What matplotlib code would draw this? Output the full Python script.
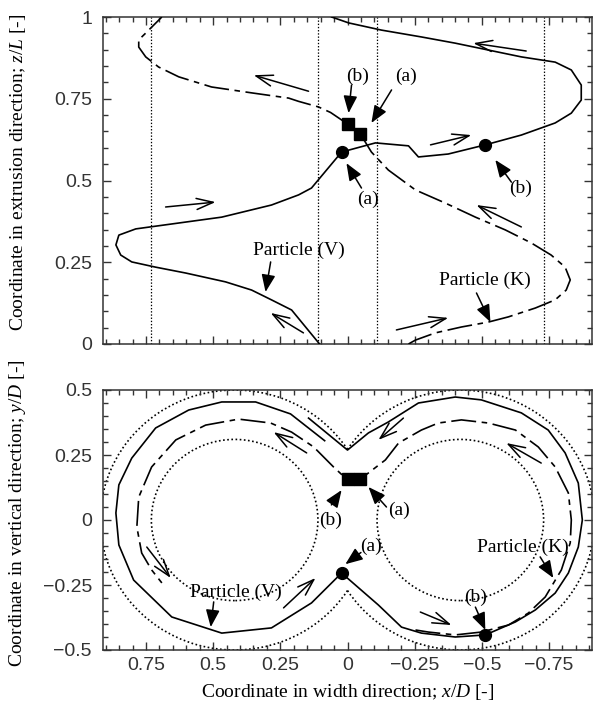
import numpy as np
import matplotlib
matplotlib.use("Agg")
import matplotlib.pyplot as plt
from matplotlib.ticker import MultipleLocator, FixedLocator, FuncFormatter
from matplotlib.patches import Arc, Circle

plt.rcParams['lines.scale_dashes'] = False
plt.rcParams['mathtext.fontset'] = 'custom'
plt.rcParams['mathtext.rm'] = 'Liberation Serif'
plt.rcParams['mathtext.it'] = 'Liberation Serif:italic'

# ---------------- data ----------------
# top panel: particle (V) solid, x/D vs z/L
v_top_x = [0.104, 0.208, 0.283, 0.357, 0.454, 0.602, 0.714, 0.803, 0.844, 0.862, 0.851, 0.788,
           0.468, 0.283, 0.182, 0.134, 0.022, -0.104, -0.227, -0.264, -0.375, -0.513, -0.647,
           -0.773, -0.833, -0.870, -0.870, -0.833, -0.773, -0.647, -0.524, -0.401, -0.275,
           -0.126, -0.004, 0.059]
v_top_z = [0.0, 0.104, 0.135, 0.165, 0.190, 0.217, 0.235, 0.251, 0.272, 0.303, 0.333, 0.352,
           0.388, 0.425, 0.456, 0.477, 0.587, 0.615, 0.606, 0.572, 0.581, 0.609, 0.639,
           0.676, 0.706, 0.746, 0.792, 0.838, 0.862, 0.878, 0.899, 0.920, 0.939,
           0.960, 0.982, 1.0]
# top panel: particle (K) dash-dot
k_top_x = [-0.227, -0.253, -0.327, -0.424, -0.524, -0.599, -0.699, -0.773, -0.814, -0.829,
           -0.810, -0.758, -0.684, -0.587, -0.476, -0.364, -0.253, -0.152, -0.089, -0.048,
           0.0, 0.063, 0.108, 0.182, 0.219, 0.357, 0.506, 0.628, 0.703, 0.751, 0.777, 0.777,
           0.747, 0.691]
k_top_z = [0.0, 0.012, 0.034, 0.052, 0.067, 0.083, 0.110, 0.135, 0.165, 0.196,
           0.235, 0.272, 0.309, 0.349, 0.388, 0.431, 0.471, 0.532, 0.587, 0.642,
           0.673, 0.708, 0.725, 0.742, 0.752, 0.768, 0.786, 0.817, 0.847, 0.878, 0.908, 0.930,
           0.954, 1.0]

# bottom panel: particle (V) solid, x/D vs y/D
v_bot_x = [0.085, 0.212, 0.342, 0.468, 0.591, 0.714, 0.803, 0.851, 0.862, 0.851, 0.796, 0.654,
           0.468, 0.283, 0.134, 0.022, -0.115, -0.201, -0.275, -0.401, -0.513, -0.625, -0.699,
           -0.773, -0.822, -0.859, -0.874, -0.859, -0.810, -0.747, -0.647, -0.498, -0.401,
           -0.264, -0.152, -0.078, 0.0, 0.145]
v_bot_y = [0.305, 0.408, 0.454, 0.454, 0.423, 0.354, 0.238, 0.135, 0.027, -0.096, -0.231, -0.373,
           -0.435, -0.415, -0.319, -0.204, -0.327, -0.412, -0.435, -0.450, -0.442, -0.392, -0.346,
           -0.281, -0.204, -0.104, 0.0, 0.142, 0.258, 0.346, 0.412, 0.462, 0.473,
           0.450, 0.377, 0.335, 0.269, 0.392]
# bottom panel: particle (K)
k_bot_x = [-0.253, -0.301, -0.401, -0.498, -0.599, -0.673, -0.736, -0.796, -0.829, -0.833,
           -0.822, -0.773, -0.710, -0.625, -0.524, -0.424, -0.338, -0.275, -0.190, -0.141,
           -0.078, -0.048, 0.004, 0.052, 0.126, 0.208, 0.286, 0.405, 0.528, 0.639, 0.729,
           0.777, 0.784, 0.766, 0.729, 0.691]
k_bot_y = [-0.423, -0.431, -0.442, -0.431, -0.404, -0.358, -0.296, -0.192, -0.088, 0.0,
           0.104, 0.204, 0.281, 0.346, 0.373, 0.385, 0.373, 0.346, 0.296, 0.231,
           0.181, 0.158, 0.158, 0.204, 0.281, 0.338, 0.373, 0.388, 0.365, 0.308, 0.204,
           0.088, -0.027, -0.127, -0.192, -0.242]

# markers: (a) and (b) positions
dot_x = [0.022, -0.513]
dot_top_z = [0.587, 0.609]
dot_bot_y = [-0.204, -0.442]
sq_x = [0.0, -0.048]
sq_top_z = [0.673, 0.642]
sq_bot_y = [0.158, 0.158]

# geometry (barrel / screw)
barrel_center = 0.42
barrel_radius = 0.5
screw_radius = 0.31

# direction arrows (tail x, tail y, head x, head y)
top_flow_arrows = [(0.145, 0.773, 0.349, 0.822), (-0.665, 0.896, -0.468, 0.920),
                   (0.677, 0.419, 0.491, 0.434), (-0.309, 0.609, -0.461, 0.639),
                   (-0.647, 0.358, -0.480, 0.425), (-0.182, 0.043, -0.375, 0.080),
                   (0.164, 0.034, 0.286, 0.095)]
bot_flow_arrows = [(0.152, 0.258, 0.275, 0.338), (0.747, -0.104, 0.658, -0.223),
                   (0.238, -0.338, 0.119, -0.223), (-0.208, 0.392, -0.115, 0.308),
                   (-0.721, 0.219, -0.591, 0.296), (-0.271, -0.354, -0.387, -0.404)]

# labels: text, text x, text y, arrow tail x, tail y, head x, head y
top_labels = [("Particle (V)", 0.182, 0.287, 0.286, 0.251, 0.305, 0.159),
              ("Particle (K)", -0.513, 0.196, -0.48, 0.156, -0.532, 0.067),
              ("(b)", -0.037, 0.820, -0.015, 0.792, -0.004, 0.706),
              ("(a)", -0.219, 0.817, -0.164, 0.777, -0.089, 0.676),
              ("(a)", -0.078, 0.443, -0.052, 0.477, 0.004, 0.553),
              ("(b)", -0.643, 0.477, -0.61, 0.495, -0.55, 0.563)]
bot_labels = [("Particle (V)", 0.416, -0.277, 0.498, -0.315, 0.509, -0.412),
              ("Particle (K)", -0.651, -0.104, -0.717, -0.142, -0.766, -0.223),
              ("(b)", -0.476, -0.296, -0.476, -0.335, -0.513, -0.423),
              ("(a)", -0.089, -0.100, -0.05, -0.125, 0.008, -0.170),
              ("(a)", -0.190, 0.038, -0.145, 0.050, -0.078, 0.127),
              ("(b)", 0.063, 0.000, 0.060, 0.058, 0.022, 0.115)]

x_ticks = [0.75, 0.5, 0.25, 0, -0.25, -0.5, -0.75]
top_yticks = [0, 0.25, 0.5, 0.75, 1]
bot_yticks = [-0.5, -0.25, 0, 0.25, 0.5]

# ---------------- figure ----------------
W, H = 595, 704
fig = plt.figure(figsize=(W / 100, H / 100), dpi=100)
L, R = 103, 592
ax1 = fig.add_axes([L / W, 1 - 344 / H, (R - L) / W, 327 / H])
ax2 = fig.add_axes([L / W, 1 - 650 / H, (R - L) / W, 260 / H])

serif = 'Liberation Serif'
fs_txt = 14
K_DASH = (0, (18, 4, 4, 4))
DOT = (0, (1.2, 1.8))

def fmt(v, p):
    s = '%g' % round(v, 3)
    if s == '-0':
        s = '0'
    return s.replace('-', '\u2212')

for ax, yt in ((ax1, top_yticks), (ax2, bot_yticks)):
    ax.set_xlim(0.91, -0.91)
    ax.xaxis.set_major_locator(FixedLocator(x_ticks))
    ax.xaxis.set_minor_locator(MultipleLocator(0.05))
    ax.yaxis.set_major_locator(FixedLocator(yt))
    ax.yaxis.set_minor_locator(MultipleLocator(0.05))
    ax.tick_params(which='both', direction='in', top=True, right=True,
                   color='#333333', width=1.0)
    ax.tick_params(which='major', length=6)
    ax.tick_params(which='minor', length=3.5)
    ax.tick_params(axis='y', pad=8, labelsize=14, labelcolor='#333333')
    ax.tick_params(axis='x', pad=5, labelsize=14, labelcolor='#333333')
    for lab in ax.get_xticklabels() + ax.get_yticklabels():
        lab.set_family('Liberation Sans')
    ax.xaxis.set_major_formatter(FuncFormatter(fmt))
    ax.yaxis.set_major_formatter(FuncFormatter(fmt))
    for sp in ax.spines.values():
        sp.set_linewidth(1.1)
        sp.set_color('#333333')

ax1.set_ylim(0, 1)
ax1.tick_params(axis='x', labelbottom=False)
ax2.set_ylim(-0.5, 0.5)
for ax in (ax1, ax2):
    for lab in ax.get_xticklabels() + ax.get_yticklabels():
        lab.set_family('Liberation Sans')

# ---- top panel ----
c, r = barrel_center, screw_radius
for xv in (c + r, c - r, -(c - r), -(c + r)):
    ax1.axvline(xv, color='k', lw=0.9, linestyle=(0, (1, 1.3)), zorder=1)
ax1.plot(v_top_x, v_top_z, color='k', lw=1.2, zorder=3)
ax1.plot(k_top_x, k_top_z, color='k', lw=1.2, linestyle=K_DASH, zorder=3)
ax1.plot(dot_x, dot_top_z, 'o', color='k', ms=8.5, zorder=5)
ax1.plot(sq_x, sq_top_z, 's', color='k', ms=9, zorder=5)

# ---- bottom panel ----
ang = np.degrees(np.arccos(c / barrel_radius))
ax2.add_patch(Arc((-c, 0), 2 * barrel_radius, 2 * barrel_radius, theta1=ang, theta2=360 - ang,
                  color='k', lw=1.2, linestyle=DOT, zorder=1))
ax2.add_patch(Arc((c, 0), 2 * barrel_radius, 2 * barrel_radius, theta1=-(180 - ang), theta2=180 - ang,
                  color='k', lw=1.2, linestyle=DOT, zorder=1))
for cx in (c, -c):
    ax2.add_patch(Circle((cx, 0), r, fill=False, color='k', lw=1.2, linestyle=DOT, zorder=1))
ax2.plot(v_bot_x, v_bot_y, color='k', lw=1.2, zorder=3)
ax2.plot(k_bot_x, k_bot_y, color='k', lw=1.2, linestyle=K_DASH, zorder=3)
ax2.plot(dot_x, dot_bot_y, 'o', color='k', ms=8.5, zorder=5)
ax2.plot(sq_x, sq_bot_y, 's', color='k', ms=9, zorder=5)

for ax, arrows, labels in ((ax1, top_flow_arrows, top_labels), (ax2, bot_flow_arrows, bot_labels)):
    for (tx, ty, hx, hy) in arrows:
        ax.annotate('', xy=(hx, hy), xytext=(tx, ty),
                    arrowprops=dict(arrowstyle='->,head_length=0.6,head_width=0.2',
                                    mutation_scale=20, lw=1.1, color='k',
                                    shrinkA=0, shrinkB=0), zorder=4)
    for (t, x, y, tx, ty, hx, hy) in labels:
        ax.text(x, y, t, ha='center', va='center', fontsize=fs_txt, family=serif, zorder=6)
        ax.annotate('', xy=(hx, hy), xytext=(tx, ty),
                    arrowprops=dict(arrowstyle='-|>,head_length=0.7,head_width=0.28',
                                    mutation_scale=15, lw=1.1, color='k',
                                    shrinkA=0, shrinkB=0), zorder=6)

# axis labels
fig.text(18 / W, 1 - 172 / H, 'Coordinate in extrusion direction; $z/L$ [-]', rotation=90,
         ha='center', va='center', fontsize=14, family=serif)
fig.text(18 / W, 1 - 513 / H, 'Coordinate in vertical direction; $y/D$ [-]', rotation=90,
         ha='center', va='center', fontsize=14, family=serif)
fig.text(348 / W, 1 - 692 / H, 'Coordinate in width direction; $x/D$ [-]',
         ha='center', va='center', fontsize=14, family=serif)

fig.savefig('out.png', dpi=100)
